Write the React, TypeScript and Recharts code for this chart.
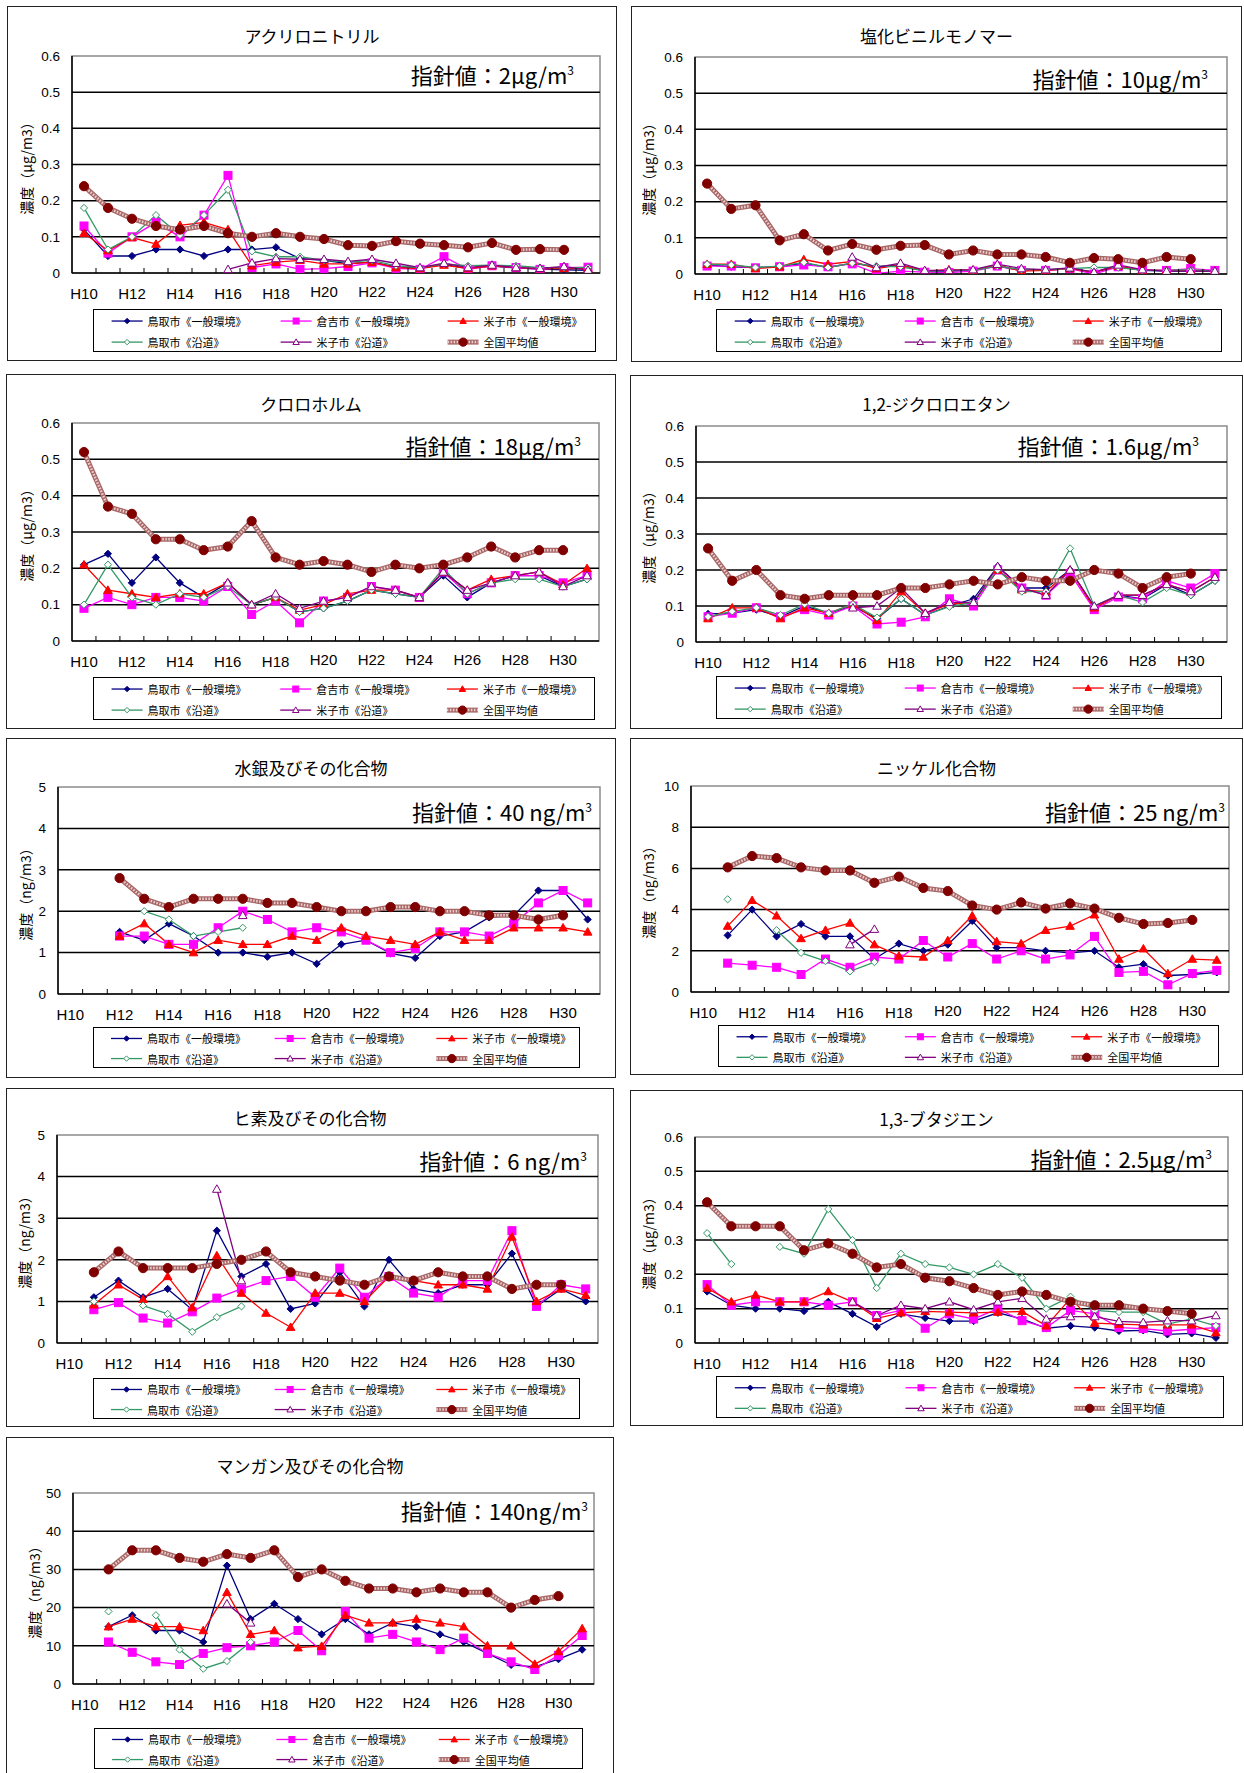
import React from "react";
import { LineChart, Line, XAxis, YAxis, ReferenceLine, ReferenceArea } from "recharts";

const N = null;

const YEARS = [
  "H10", "H11", "H12", "H13", "H14", "H15", "H16", "H17", "H18", "H19", "H20",
  "H21", "H22", "H23", "H24", "H25", "H26", "H27", "H28", "H29", "H30", "H31",
];
const IDX = YEARS.map((_, i) => i);

const TICKS_06 = [0, 0.1, 0.2, 0.3, 0.4, 0.5, 0.6];
const TICKS_5 = [0, 1, 2, 3, 4, 5];
const TICKS_10 = [0, 2, 4, 6, 8, 10];
const TICKS_50 = [0, 10, 20, 30, 40, 50];

// アクリロニトリル
const acrTottori = [0.12, 0.047, 0.047, 0.065, 0.065, 0.047, 0.065, 0.065, 0.071, 0.04, 0.035, 0.026, 0.03, 0.017, 0.014, 0.024, 0.012, 0.019, 0.014, 0.011, 0.009, 0.007];
const acrKurayoshi = [0.13, 0.055, 0.1, 0.14, 0.1, 0.16, 0.27, 0.015, 0.025, 0.01, 0.012, 0.018, 0.028, 0.013, 0.01, 0.045, 0.01, 0.02, 0.015, 0.01, 0.015, 0.016];
const acrYonago = [0.11, 0.062, 0.098, 0.08, 0.132, 0.14, 0.12, 0.02, 0.03, 0.035, 0.025, 0.025, 0.03, 0.015, 0.012, 0.022, 0.012, 0.02, 0.015, 0.012, 0.013, 0.012];
const acrTottoriRoad = [0.18, 0.065, 0.1, 0.16, 0.105, 0.16, 0.23, 0.06, 0.045, 0.045, 0.035, 0.03, 0.035, 0.02, 0.015, 0.025, 0.02, 0.022, 0.02, 0.015, 0.015, 0.015];
const acrYonagoRoad = [N, N, N, N, N, N, 0.01, 0.028, 0.04, 0.038, 0.038, 0.032, 0.038, 0.027, 0.015, 0.027, 0.015, 0.022, 0.015, 0.013, 0.018, 0.008];
const acrNational = [0.24, 0.18, 0.15, 0.13, 0.12, 0.13, 0.11, 0.1, 0.11, 0.1, 0.094, 0.077, 0.075, 0.088, 0.081, 0.077, 0.071, 0.083, 0.064, 0.066, 0.064, N];

// 塩化ビニルモノマー
const vcmTottori = [0.025, 0.02, 0.018, 0.02, 0.03, 0.018, 0.03, 0.02, 0.025, 0.008, 0.008, 0.01, 0.022, 0.01, 0.01, 0.015, 0.005, 0.02, 0.01, 0.008, 0.008, 0.008];
const vcmKurayoshi = [0.022, 0.022, 0.017, 0.02, 0.025, 0.02, 0.028, 0.002, 0.008, 0.005, 0.004, 0.008, 0.022, 0.01, 0.01, 0.015, 0, 0.02, 0.012, 0.01, 0.015, 0.01];
const vcmYonago = [0.027, 0.027, 0.015, 0.02, 0.04, 0.027, 0.035, 0.015, 0.025, 0.008, 0.012, 0.01, 0.025, 0.008, 0.01, 0.015, 0.005, 0.022, 0.01, 0.01, 0.01, 0.008];
const vcmTottoriRoad = [0.027, 0.025, 0.018, 0.022, 0.032, 0.018, 0.03, 0.022, 0.02, 0.008, 0.01, 0.01, 0.022, 0.012, 0.012, 0.015, 0.018, 0.018, 0.01, 0.01, 0.012, 0.008];
const vcmYonagoRoad = [N, N, N, N, N, N, 0.047, 0.018, 0.03, 0.01, 0.01, 0.012, 0.027, 0.015, 0.012, 0.017, 0.005, 0.025, 0.012, 0.008, 0.008, 0.008];
const vcmNational = [0.25, 0.18, 0.19, 0.093, 0.11, 0.065, 0.083, 0.067, 0.078, 0.08, 0.054, 0.065, 0.054, 0.054, 0.047, 0.031, 0.044, 0.041, 0.031, 0.047, 0.041, N];

// クロロホルム
const chlTottori = [0.21, 0.24, 0.16, 0.23, 0.16, 0.12, 0.16, 0.1, 0.12, 0.08, 0.09, 0.11, 0.14, 0.13, 0.12, 0.18, 0.12, 0.16, 0.18, 0.18, 0.15, 0.17];
const chlKurayoshi = [0.09, 0.12, 0.1, 0.12, 0.12, 0.11, 0.15, 0.073, 0.11, 0.05, 0.11, 0.12, 0.15, 0.14, 0.12, 0.19, 0.13, 0.16, 0.18, 0.18, 0.16, 0.18];
const chlYonago = [0.21, 0.14, 0.13, 0.12, 0.13, 0.13, 0.16, 0.1, 0.12, 0.085, 0.1, 0.13, 0.14, 0.14, 0.12, 0.19, 0.14, 0.17, 0.18, 0.19, 0.155, 0.2];
const chlTottoriRoad = [0.1, 0.21, 0.12, 0.1, 0.13, 0.12, 0.15, 0.1, 0.12, 0.08, 0.09, 0.11, 0.14, 0.13, 0.12, 0.2, 0.13, 0.16, 0.17, 0.17, 0.15, 0.17];
const chlYonagoRoad = [N, N, N, N, N, N, 0.16, 0.1, 0.13, 0.09, 0.11, 0.12, 0.15, 0.14, 0.12, 0.19, 0.14, 0.16, 0.18, 0.19, 0.15, 0.18];
const chlNational = [0.52, 0.37, 0.35, 0.28, 0.28, 0.25, 0.26, 0.33, 0.23, 0.21, 0.22, 0.21, 0.19, 0.21, 0.2, 0.21, 0.23, 0.26, 0.23, 0.25, 0.25, N];

// 1,2-ジクロロエタン
const dceTottori = [0.078, 0.08, 0.09, 0.07, 0.1, 0.08, 0.1, 0.065, 0.12, 0.075, 0.1, 0.12, 0.21, 0.15, 0.15, 0.2, 0.095, 0.13, 0.12, 0.16, 0.13, 0.17];
const dceKurayoshi = [0.07, 0.08, 0.095, 0.07, 0.09, 0.075, 0.1, 0.05, 0.055, 0.07, 0.12, 0.1, 0.2, 0.15, 0.13, 0.19, 0.09, 0.125, 0.12, 0.17, 0.15, 0.19];
const dceYonago = [0.065, 0.095, 0.095, 0.065, 0.095, 0.08, 0.105, 0.06, 0.14, 0.08, 0.105, 0.11, 0.2, 0.145, 0.14, 0.2, 0.095, 0.13, 0.13, 0.16, 0.14, 0.18];
const dceTottoriRoad = [0.07, 0.085, 0.095, 0.075, 0.105, 0.08, 0.105, 0.068, 0.12, 0.075, 0.098, 0.11, 0.2, 0.14, 0.14, 0.26, 0.1, 0.13, 0.11, 0.15, 0.13, 0.17];
const dceYonagoRoad = [N, N, N, N, N, N, 0.095, 0.1, 0.15, 0.08, 0.11, 0.11, 0.21, 0.15, 0.13, 0.2, 0.1, 0.13, 0.13, 0.16, 0.14, 0.18];
const dceNational = [0.26, 0.17, 0.2, 0.13, 0.12, 0.13, 0.13, 0.13, 0.15, 0.15, 0.16, 0.17, 0.16, 0.18, 0.17, 0.17, 0.2, 0.19, 0.15, 0.18, 0.19, N];

// 水銀及びその化合物
const hgTottori = [N, N, 1.5, 1.3, 1.7, 1.4, 1.0, 1.0, 0.9, 1.0, 0.73, 1.2, 1.3, 0.98, 0.87, 1.4, 1.5, 1.85, 1.9, 2.5, 2.5, 1.8];
const hgKurayoshi = [N, N, 1.4, 1.4, 1.2, 1.2, 1.6, 2.0, 1.8, 1.5, 1.6, 1.5, 1.3, 1.0, 1.1, 1.5, 1.5, 1.4, 1.7, 2.2, 2.5, 2.2];
const hgYonago = [N, N, 1.4, 1.7, 1.2, 1.0, 1.3, 1.2, 1.2, 1.4, 1.3, 1.6, 1.4, 1.3, 1.2, 1.5, 1.3, 1.3, 1.6, 1.6, 1.6, 1.5];
const hgTottoriRoad = [N, N, N, 2.0, 1.8, 1.4, 1.5, 1.6, N, N, N, N, N, N, N, N, N, N, N, N, N, N];
const hgYonagoRoad = [N, N, N, N, N, N, N, 1.9, N, N, N, N, N, N, N, N, N, N, N, N, N, N];
const hgNational = [N, N, 2.8, 2.3, 2.1, 2.3, 2.3, 2.3, 2.2, 2.2, 2.1, 2.0, 2.0, 2.1, 2.1, 2.0, 2.0, 1.9, 1.9, 1.8, 1.9, N];

// ニッケル化合物
const niTottori = [N, 2.75, 4.0, 2.7, 3.3, 2.7, 2.7, 1.6, 2.35, 2.0, 2.3, 3.45, 2.15, 2.15, 2.0, 1.9, 2.0, 1.2, 1.35, 0.8, 0.85, 0.95];
const niKurayoshi = [N, 1.4, 1.3, 1.2, 0.85, 1.6, 1.2, 1.7, 1.6, 2.5, 1.7, 2.35, 1.6, 2.0, 1.6, 1.8, 2.7, 0.95, 1.0, 0.35, 0.9, 1.05];
const niYonago = [N, 3.2, 4.45, 3.7, 2.6, 3.0, 3.35, 2.3, 1.75, 1.7, 2.5, 3.7, 2.45, 2.35, 3.0, 3.2, 3.75, 1.6, 2.1, 0.9, 1.6, 1.55];
const niTottoriRoad = [N, 4.5, N, 3.0, 1.9, 1.5, 1.0, 1.45, N, N, N, N, N, N, N, N, N, N, N, N, N, N];
const niYonagoRoad = [N, N, N, N, N, N, 2.3, 3.05, N, N, N, N, N, N, N, N, N, N, N, N, N, N];
const niNational = [N, 6.05, 6.6, 6.5, 6.05, 5.9, 5.9, 5.3, 5.6, 5.05, 4.9, 4.2, 4.0, 4.35, 4.05, 4.3, 4.05, 3.6, 3.3, 3.35, 3.5, N];

// ヒ素及びその化合物
const asTottori = [N, 1.1, 1.5, 1.1, 1.3, 0.8, 2.7, 1.6, 1.9, 0.82, 0.95, 1.7, 0.88, 2.0, 1.3, 1.2, 1.4, 1.4, 2.15, 0.88, 1.3, 1.0];
const asKurayoshi = [N, 0.8, 0.97, 0.6, 0.48, 0.75, 1.08, 1.3, 1.5, 1.6, 1.1, 1.8, 1.1, 1.6, 1.2, 1.1, 1.5, 1.5, 2.7, 0.88, 1.4, 1.3];
const asYonago = [N, 0.92, 1.4, 1.05, 1.6, 0.85, 2.1, 1.2, 0.72, 0.38, 1.2, 1.2, 1.0, 1.6, 1.5, 1.4, 1.4, 1.3, 2.55, 1.0, 1.3, 1.15];
const asTottoriRoad = [N, 1.0, N, 0.9, 0.7, 0.27, 0.62, 0.88, N, N, N, N, N, N, N, N, N, N, N, N, N, N];
const asYonagoRoad = [N, N, N, N, N, N, 3.7, 1.5, N, N, N, N, N, N, N, N, N, N, N, N, N, N];
const asNational = [N, 1.7, 2.2, 1.8, 1.8, 1.8, 1.9, 2.0, 2.2, 1.7, 1.6, 1.5, 1.4, 1.6, 1.5, 1.7, 1.6, 1.6, 1.3, 1.4, 1.4, N];

// 1,3-ブタジエン
const bdTottori = [0.15, 0.11, 0.1, 0.1, 0.093, 0.12, 0.085, 0.047, 0.085, 0.073, 0.064, 0.064, 0.088, 0.07, 0.043, 0.05, 0.045, 0.035, 0.037, 0.025, 0.028, 0.015];
const bdKurayoshi = [0.17, 0.11, 0.12, 0.12, 0.12, 0.11, 0.12, 0.08, 0.095, 0.043, 0.085, 0.07, 0.1, 0.065, 0.045, 0.095, 0.085, 0.045, 0.042, 0.035, 0.04, 0.045];
const bdYonago = [0.16, 0.12, 0.14, 0.12, 0.12, 0.15, 0.12, 0.072, 0.088, 0.092, 0.09, 0.088, 0.09, 0.092, 0.05, 0.13, 0.058, 0.055, 0.053, 0.053, 0.053, 0.03];
const bdTottoriRoad = [0.32, 0.23, N, 0.28, 0.26, 0.39, 0.3, 0.16, 0.26, 0.23, 0.22, 0.2, 0.23, 0.19, 0.1, 0.135, 0.095, 0.09, 0.09, 0.055, 0.07, 0.05];
const bdYonagoRoad = [N, N, N, N, N, N, 0.12, 0.08, 0.11, 0.1, 0.12, 0.097, 0.12, 0.13, 0.07, 0.077, 0.077, 0.063, 0.06, 0.065, 0.065, 0.08];
const bdNational = [0.41, 0.34, 0.34, 0.34, 0.27, 0.29, 0.26, 0.22, 0.23, 0.19, 0.18, 0.16, 0.14, 0.15, 0.14, 0.12, 0.11, 0.11, 0.1, 0.093, 0.085, N];

// マンガン及びその化合物
const mnTottori = [N, 15, 18, 14, 14, 11, 31, 17, 21, 17, 13, 17, 13, 16, 15, 13, 11, 8, 5, 4.5, 6.5, 9];
const mnKurayoshi = [N, 11, 8.3, 5.8, 5.1, 8, 9.5, 10, 11, 14, 8.7, 19, 12, 13, 11, 9, 12, 8, 5.8, 3.8, 7.5, 12.7];
const mnYonago = [N, 15, 17, 15, 15, 14, 24, 13, 14, 9.5, 9.9, 18, 16, 16, 17, 16, 15, 10, 10, 5.2, 8.5, 14.5];
const mnTottoriRoad = [N, 19, N, 18, 9, 4, 6, 11, N, N, N, N, N, N, N, N, N, N, N, N, N, N];
const mnYonagoRoad = [N, N, N, N, N, N, 21, 16, N, N, N, N, N, N, N, N, N, N, N, N, N, N];
const mnNational = [N, 30, 35, 35, 33, 32, 34, 33, 35, 28, 30, 27, 25, 25, 24, 25, 24, 24, 20, 22, 23, N];

const SERIES_NAMES = ["鳥取市《一般環境》", "倉吉市《一般環境》", "米子市《一般環境》", "鳥取市《沿道》", "米子市《沿道》", "全国平均値"];

const STYLES = [
  { color: "#000080", shape: "diamond", filled: true, s: 3.6 },
  { color: "#FF00FF", shape: "square", filled: true, s: 4 },
  { color: "#FF0000", shape: "triangle", filled: true, s: 4.3 },
  { color: "#339966", shape: "diamond", filled: false, s: 3.6 },
  { color: "#800080", shape: "triangle", filled: false, s: 4.3 },
  { color: "#800000", shape: "circle", filled: true, s: 4.6 },
];

const CJK = "'Noto Sans CJK JP', sans-serif";
const LATIN = "'Liberation Sans', Arial, sans-serif";

const PANELS = [
  {
    title: "アクリロニトリル", note: "指針値：2μg/m", unit: "濃度（μg/m3）", ticks: TICKS_06,
    series: [acrTottori, acrKurayoshi, acrYonago, acrTottoriRoad, acrYonagoRoad, acrNational],
    frame: [7, 6, 610, 355], plot: [72, 56, 600, 273], legend: [93, 309, 596, 352],
    titleY: 35, noteRight: 574, noteY: 76, yLabelX: 26,
  },
  {
    title: "塩化ビニルモノマー", note: "指針値：10μg/m", unit: "濃度（μg/m3）", ticks: TICKS_06,
    series: [vcmTottori, vcmKurayoshi, vcmYonago, vcmTottoriRoad, vcmYonagoRoad, vcmNational],
    frame: [631, 6, 611, 356], plot: [695, 57, 1227, 274], legend: [716, 309, 1222, 352],
    titleY: 35, noteRight: 1208, noteY: 80, yLabelX: 648,
  },
  {
    title: "クロロホルム", note: "指針値：18μg/m", unit: "濃度（μg/m3）", ticks: TICKS_06,
    series: [chlTottori, chlKurayoshi, chlYonago, chlTottoriRoad, chlYonagoRoad, chlNational],
    frame: [6, 374, 610, 355], plot: [72, 423, 599, 641], legend: [93, 677, 595, 720],
    titleY: 403, noteRight: 581, noteY: 447, yLabelX: 26,
  },
  {
    title: "1,2-ジクロロエタン", note: "指針値：1.6μg/m", unit: "濃度（μg/m3）", ticks: TICKS_06,
    series: [dceTottori, dceKurayoshi, dceYonago, dceTottoriRoad, dceYonagoRoad, dceNational],
    frame: [630, 375, 613, 354], plot: [696, 426, 1227, 642], legend: [716, 676, 1222, 719],
    titleY: 403, noteRight: 1199, noteY: 447, yLabelX: 648,
  },
  {
    title: "水銀及びその化合物", note: "指針値：40 ng/m", unit: "濃度（ng/m3）", ticks: TICKS_5,
    series: [hgTottori, hgKurayoshi, hgYonago, hgTottoriRoad, hgYonagoRoad, hgNational],
    frame: [6, 738, 610, 340], plot: [58, 787, 600, 994], legend: [93, 1027, 580, 1068],
    titleY: 767, noteRight: 592, noteY: 813, yLabelX: 25,
  },
  {
    title: "ニッケル化合物", note: "指針値：25 ng/m", unit: "濃度（ng/m3）", ticks: TICKS_10,
    series: [niTottori, niKurayoshi, niYonago, niTottoriRoad, niYonagoRoad, niNational],
    frame: [630, 738, 613, 337], plot: [691, 786, 1229, 992], legend: [718, 1025, 1219, 1067],
    titleY: 767, noteRight: 1225, noteY: 813, yLabelX: 648,
  },
  {
    title: "ヒ素及びその化合物", note: "指針値：6 ng/m", unit: "濃度（ng/m3）", ticks: TICKS_5,
    series: [asTottori, asKurayoshi, asYonago, asTottoriRoad, asYonagoRoad, asNational],
    frame: [6, 1088, 608, 339], plot: [57, 1135, 598, 1343], legend: [93, 1378, 580, 1419],
    titleY: 1117, noteRight: 587, noteY: 1162, yLabelX: 24,
  },
  {
    title: "1,3-ブタジエン", note: "指針値：2.5μg/m", unit: "濃度（μg/m3）", ticks: TICKS_06,
    series: [bdTottori, bdKurayoshi, bdYonago, bdTottoriRoad, bdYonagoRoad, bdNational],
    frame: [630, 1090, 613, 336], plot: [695, 1137, 1228, 1343], legend: [716, 1376, 1224, 1418],
    titleY: 1118, noteRight: 1212, noteY: 1160, yLabelX: 648,
  },
  {
    title: "マンガン及びその化合物", note: "指針値：140ng/m", unit: "濃度（ng/m3）", ticks: TICKS_50,
    series: [mnTottori, mnKurayoshi, mnYonago, mnTottoriRoad, mnYonagoRoad, mnNational],
    frame: [6, 1437, 608, 345], plot: [73, 1493, 594, 1684], legend: [94, 1728, 583, 1769],
    titleY: 1465, noteRight: 588, noteY: 1512, yLabelX: 34,
  },
];

function Marker({ cx, cy, st, scale = 1 }: any) {
  const s = st.s * scale;
  const fill = st.filled ? st.color : "#fff";
  if (st.shape === "diamond") {
    return <polygon points={`${cx},${cy - s} ${cx + s},${cy} ${cx},${cy + s} ${cx - s},${cy}`} fill={fill} stroke={st.color} strokeWidth={1} />;
  }
  if (st.shape === "square") {
    return <rect x={cx - s} y={cy - s} width={2 * s} height={2 * s} fill={fill} stroke={st.color} strokeWidth={1} />;
  }
  if (st.shape === "triangle") {
    return <polygon points={`${cx},${cy - s} ${cx + s},${cy + s * 0.75} ${cx - s},${cy + s * 0.75}`} fill={fill} stroke={st.color} strokeWidth={1} />;
  }
  return <circle cx={cx} cy={cy} r={s} fill={fill} stroke={st.color} strokeWidth={1} />;
}

const makeDot = (st: any) => (props: any) => {
  const { cx, cy, value, index } = props;
  if (cx == null || cy == null || value == null || Number.isNaN(cy)) return <g key={`d${index}`} />;
  return (
    <g key={`d${index}`}>
      <Marker cx={cx} cy={cy} st={st} />
    </g>
  );
};

function Legend({ box, fx, fy }: any) {
  const [l, t, r, b] = box;
  const w = r - l;
  const h = b - t;
  const cols = [0.037, 0.373, 0.705];
  const rows = [0.28, 0.77];
  return (
    <div style={{ position: "absolute", left: l - fx, top: t - fy, width: w, height: h, border: "1.5px solid #000", boxSizing: "border-box", background: "#fff" }}>
      <svg width={w} height={h} style={{ position: "absolute", left: -1.5, top: -1.5 }}>
        {SERIES_NAMES.map((name, k) => {
          const x = w * cols[k % 3];
          const y = h * rows[Math.floor(k / 3)];
          const st = STYLES[k];
          return (
            <g key={name}>
              {k === 5 ? (
                <g>
                  <line x1={x} x2={x + 31} y1={y} y2={y} stroke="#a86767" strokeWidth={5} />
                  <line x1={x} x2={x + 31} y1={y} y2={y} stroke="#ecd0d0" strokeWidth={2.5} strokeDasharray="1.5 1.5" />
                </g>
              ) : (
                <line x1={x} x2={x + 31} y1={y} y2={y} stroke={st.color} strokeWidth={1.3} />
              )}
              <Marker cx={x + 15.5} cy={y} st={st} scale={k === 5 ? 0.9 : 0.75} />
              <text x={x + 36} y={y} dominantBaseline="central" fontSize={11} fontFamily={CJK} fill="#000">
                {name}
              </text>
            </g>
          );
        })}
      </svg>
    </div>
  );
}

function Panel({ p }: any) {
  const [fx, fy, fw, fh] = p.frame;
  const [pl, pt, pr, pb] = p.plot;
  const YW = 50;
  const XH = 34;
  const max = p.ticks[p.ticks.length - 1];
  const margin = { left: pl - fx - YW, top: pt - fy, right: fx + fw - pr, bottom: fy + fh - pb - XH };
  const step = (pr - pl) / YEARS.length;
  const data = YEARS.map((year, i) => {
    const row: any = { i, year };
    p.series.forEach((s: any[], k: number) => {
      row[`s${k}`] = s[i];
    });
    return row;
  });

  const xTick = (props: any) => {
    const { x, y, payload, index } = props;
    const i = payload.value;
    return (
      <g key={`t${index}`}>
        {i > 0 && <line x1={x - step / 2} x2={x - step / 2} y1={y} y2={y - 5} stroke="#000" strokeWidth={1} />}
        {i % 2 === 0 && (
          <text x={x} y={y + (i <= 8 ? 20 : 18)} textAnchor="middle" dominantBaseline="central" fontSize={15} fontFamily={LATIN} fill="#000">
            {YEARS[i]}
          </text>
        )}
      </g>
    );
  };

  return (
    <div style={{ position: "absolute", left: fx, top: fy, width: fw, height: fh }}>
      <div style={{ position: "absolute", left: 0, top: 0, width: fw, height: fh, border: "1.5px solid #222", boxSizing: "border-box" }} />
      <div style={{ position: "absolute", left: 0, top: 0 }}>
        <LineChart width={fw} height={fh} data={data} margin={margin}>
          <ReferenceArea x1={-0.5} x2={YEARS.length - 0.5} y1={0} y2={max} fill="none" stroke="#8c8c8c" strokeWidth={1.5} ifOverflow="visible" />
          {p.ticks.slice(1, -1).map((v: number) => (
            <ReferenceLine key={v} y={v} stroke="#000" strokeWidth={1.5} />
          ))}
          <XAxis
            dataKey="i"
            type="number"
            domain={[-0.5, YEARS.length - 0.5]}
            ticks={IDX}
            interval={0}
            allowDataOverflow
            height={XH}
            tickLine={false}
            tickSize={0}
            tickMargin={0}
            axisLine={{ stroke: "#000", strokeWidth: 1.5 }}
            tick={xTick}
          />
          <YAxis
            type="number"
            domain={[0, max]}
            ticks={p.ticks}
            interval={0}
            allowDataOverflow
            width={YW}
            tickLine={false}
            tickSize={0}
            tickMargin={12}
            axisLine={{ stroke: "#000", strokeWidth: 1.5 }}
            tick={{ fill: "#000", fontSize: 13.5, fontFamily: LATIN }}
            tickFormatter={(v: number) => String(v)}
          />
          {STYLES.slice(0, 5).map((st, k) => (
            <Line
              key={k}
              dataKey={`s${k}`}
              stroke={st.color}
              strokeWidth={1.3}
              dot={makeDot(st)}
              activeDot={false}
              connectNulls={false}
              isAnimationActive={false}
            />
          ))}
          <Line dataKey="s5" stroke="#a86767" strokeWidth={5} dot={false} activeDot={false} isAnimationActive={false} />
          <Line dataKey="s5" stroke="#ecd0d0" strokeWidth={2.5} strokeDasharray="1.5 1.5" dot={makeDot(STYLES[5])} activeDot={false} isAnimationActive={false} />
        </LineChart>
      </div>
      <div style={{ position: "absolute", left: 0, width: fw, top: p.titleY - fy, transform: "translateY(-50%)", textAlign: "center", fontFamily: CJK, fontSize: 17, color: "#000", whiteSpace: "nowrap" }}>
        {p.title}
      </div>
      <div style={{ position: "absolute", right: fx + fw - p.noteRight, top: p.noteY - fy, transform: "translateY(-50%)", fontFamily: "'Liberation Sans Narrow', " + CJK, fontSize: 22, color: "#000", whiteSpace: "nowrap", lineHeight: "26px" }}>
        {p.note}
        <span style={{ fontSize: 12, position: "relative", top: -9 }}>3</span>
      </div>
      <div style={{ position: "absolute", left: p.yLabelX - fx, top: (pt + pb) / 2 - fy, transform: "translate(-50%, -50%) rotate(-90deg)", fontFamily: CJK, fontSize: 14, color: "#000", whiteSpace: "nowrap" }}>
        {p.unit}
      </div>
      <Legend box={p.legend} fx={fx} fy={fy} />
    </div>
  );
}

export default function App() {
  return (
    <div style={{ position: "absolute", left: 0, top: 0, width: 1244, height: 1773, background: "#fff", overflow: "hidden" }}>
      {PANELS.map((p) => (
        <Panel key={p.title} p={p} />
      ))}
    </div>
  );
}
